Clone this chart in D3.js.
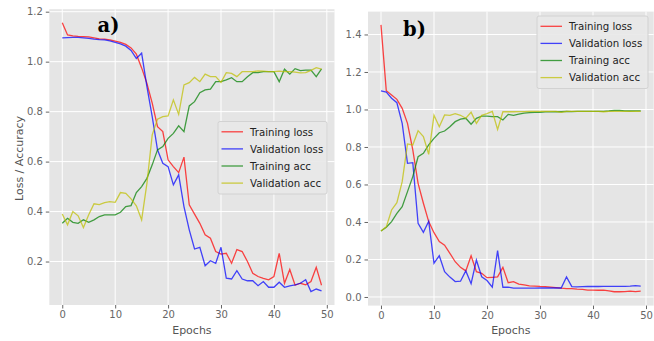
<!DOCTYPE html>
<html>
<head>
<meta charset="utf-8">
<script src="https://cdn.jsdelivr.net/npm/d3@7"></script>
<style>
body { margin: 0; background: #fff; }
text { font-family: "DejaVu Sans", sans-serif; }
</style>
</head>
<body>
<div id="chart"></div>
<script>
// values, epochs 0..49
var epochs = d3.range(0, 50);

var trainLossA = [1.156,1.107,1.103,1.101,1.100,1.099,1.095,1.091,1.090,1.087,1.082,1.077,1.069,1.055,1.030,0.975,0.913,0.834,0.740,0.720,0.607,0.580,0.556,0.618,0.427,0.390,0.353,0.307,0.293,0.240,0.230,0.233,0.193,0.248,0.240,0.200,0.153,0.140,0.133,0.127,0.140,0.233,0.113,0.168,0.105,0.113,0.107,0.120,0.177,0.105];
var valLossA = [1.095,1.096,1.097,1.097,1.095,1.093,1.090,1.088,1.087,1.083,1.077,1.071,1.062,1.045,1.013,1.034,0.900,0.780,0.647,0.593,0.580,0.507,0.547,0.420,0.327,0.250,0.257,0.183,0.203,0.193,0.257,0.133,0.130,0.163,0.130,0.123,0.123,0.103,0.120,0.097,0.097,0.117,0.097,0.103,0.107,0.113,0.127,0.080,0.090,0.083];
var trainAccA = [0.353,0.373,0.357,0.353,0.367,0.357,0.367,0.380,0.387,0.387,0.387,0.397,0.420,0.424,0.476,0.500,0.533,0.587,0.647,0.660,0.693,0.713,0.743,0.720,0.823,0.840,0.876,0.887,0.890,0.920,0.920,0.927,0.936,0.920,0.920,0.940,0.956,0.956,0.960,0.960,0.960,0.920,0.970,0.950,0.972,0.964,0.966,0.966,0.940,0.971];
var valAccA = [0.390,0.347,0.400,0.383,0.336,0.387,0.431,0.428,0.436,0.440,0.437,0.476,0.473,0.451,0.423,0.367,0.513,0.707,0.770,0.780,0.783,0.847,0.789,0.907,0.916,0.937,0.920,0.950,0.940,0.940,0.917,0.956,0.953,0.940,0.960,0.960,0.960,0.963,0.962,0.960,0.960,0.962,0.960,0.960,0.958,0.955,0.956,0.965,0.976,0.970];

var trainLossB = [1.451,1.100,1.077,1.054,1.006,0.926,0.784,0.606,0.500,0.402,0.343,0.295,0.276,0.233,0.188,0.158,0.139,0.220,0.135,0.126,0.103,0.105,0.107,0.158,0.076,0.082,0.069,0.064,0.059,0.058,0.056,0.055,0.053,0.050,0.047,0.045,0.045,0.042,0.040,0.037,0.037,0.036,0.036,0.032,0.028,0.028,0.029,0.031,0.029,0.031];
var valLossB = [1.099,1.093,1.060,1.036,0.926,0.713,0.716,0.393,0.345,0.404,0.180,0.220,0.135,0.106,0.082,0.084,0.139,0.071,0.197,0.108,0.088,0.052,0.247,0.052,0.052,0.047,0.047,0.047,0.047,0.047,0.048,0.048,0.048,0.048,0.048,0.107,0.055,0.054,0.055,0.056,0.056,0.056,0.057,0.057,0.057,0.057,0.057,0.058,0.060,0.058];
var trainAccB = [0.352,0.372,0.402,0.446,0.482,0.562,0.642,0.748,0.766,0.811,0.846,0.876,0.885,0.908,0.935,0.948,0.953,0.921,0.953,0.965,0.965,0.962,0.962,0.944,0.974,0.969,0.975,0.980,0.983,0.985,0.985,0.987,0.987,0.988,0.988,0.990,0.989,0.990,0.990,0.990,0.990,0.990,0.990,0.992,0.995,0.995,0.993,0.992,0.993,0.993];
var valAccB = [0.352,0.374,0.464,0.503,0.615,0.816,0.811,0.887,0.855,0.761,0.969,0.908,0.971,0.969,0.978,0.969,0.953,0.985,0.926,0.969,0.978,0.990,0.894,0.988,0.988,0.988,0.989,0.989,0.990,0.990,0.990,0.990,0.990,0.990,0.985,0.990,0.990,0.990,0.990,0.990,0.990,0.990,0.988,0.990,0.990,0.990,0.990,0.990,0.990,0.990];

var seriesNames = ["Training loss", "Validation loss", "Training acc", "Validation acc"];
var seriesColors = ["#ff0000", "#0000ff", "#008000", "#bfbf00"];

var xTicks = [0, 10, 20, 30, 40, 50];
var yTicksA = [0.2, 0.4, 0.6, 0.8, 1.0, 1.2];
var yTicksB = [0.0, 0.2, 0.4, 0.6, 0.8, 1.0, 1.2, 1.4];

var svg = d3.select("#chart").append("svg")
     .attr("width", 654)
     .attr("height", 341);

function drawPanel(p) {
     var x = d3.scaleLinear().domain([-2.45, 51.45]).range([p.left, p.right]);
     var y = d3.scaleLinear().domain(p.yDomain).range([p.bottom, p.top]);

     var g = svg.append("g");
     g.append("rect")
          .attr("x", p.left).attr("y", p.top)
          .attr("width", p.right - p.left).attr("height", p.bottom - p.top)
          .attr("fill", "#e5e5e5");

     // grid
     g.selectAll(".gx").data(xTicks).enter().append("line")
          .attr("x1", function (d) { return x(d); }).attr("x2", function (d) { return x(d); })
          .attr("y1", p.top).attr("y2", p.bottom)
          .attr("stroke", "#fff").attr("stroke-width", 1);
     g.selectAll(".gy").data(p.yTicks).enter().append("line")
          .attr("x1", p.left).attr("x2", p.right)
          .attr("y1", function (d) { return y(d); }).attr("y2", function (d) { return y(d); })
          .attr("stroke", "#fff").attr("stroke-width", 1);

     var ax = g.append("g")
          .attr("transform", "translate(0," + p.bottom + ")")
          .call(d3.axisBottom(x).tickValues(xTicks).tickSize(3.5).tickPadding(2.5).tickFormat(d3.format("d")));
     var ay = g.append("g")
          .attr("transform", "translate(" + p.left + ",0)")
          .call(d3.axisLeft(y).tickValues(p.yTicks).tickSize(3.5).tickPadding(3).tickFormat(d3.format(".1f")));
     [ax, ay].forEach(function (a) {
          a.select(".domain").remove();
          a.selectAll("line").attr("stroke", "#666");
          a.selectAll("text").attr("fill", "#666").style("font-size", "10px").style("font-family", "DejaVu Sans");
     });

     var line = d3.line()
          .x(function (d, i) { return x(epochs[i]); })
          .y(function (d) { return y(d); });

     p.series.forEach(function (s, i) {
          g.append("path")
               .datum(s)
               .attr("d", line)
               .attr("fill", "none")
               .attr("stroke", seriesColors[i])
               .attr("stroke-opacity", 0.72)
               .attr("stroke-width", 1.3);
     });

     g.append("text")
          .attr("x", (p.left + p.right) / 2)
          .attr("y", 334)
          .attr("text-anchor", "middle")
          .attr("fill", "#555")
          .style("font-size", "11px")
          .text("Epochs");

     g.append("text")
          .attr("x", p.tagX).attr("y", p.tagY)
          .style("font-family", "DejaVu Serif")
          .style("font-weight", "bold")
          .style("font-size", "19.5px")
          .attr("fill", "#000")
          .text(p.tag);

     // legend
     var lg = g.append("g");
     lg.append("rect")
          .attr("x", p.legX).attr("y", p.legY)
          .attr("width", p.legW).attr("height", p.legH)
          .attr("rx", 2)
          .attr("fill", "#e8e8e8").attr("fill-opacity", 0.9)
          .attr("stroke", "#d2d2d2").attr("stroke-width", 1);
     seriesNames.forEach(function (name, i) {
          var cy = p.legY + 10.3 + i * 17.1;
          lg.append("line")
               .attr("x1", p.legX + 3.5).attr("x2", p.legX + 25)
               .attr("y1", cy).attr("y2", cy)
               .attr("stroke", seriesColors[i]).attr("stroke-opacity", 0.72)
               .attr("stroke-width", 1.3);
          lg.append("text")
               .attr("x", p.legX + 32).attr("y", cy + 3.7)
               .attr("fill", "#222")
               .style("font-size", "10.2px")
               .text(name);
     });
}

drawPanel({
     left: 49.3, right: 334.5, top: 9.2, bottom: 305,
     yDomain: [0.026, 1.21], yTicks: yTicksA,
     series: [trainLossA, valLossA, trainAccA, valAccA],
     tag: "a)", tagX: 97.5, tagY: 31.5,
     legX: 218, legY: 121.5, legW: 109, legH: 72.5
});

drawPanel({
     left: 368, right: 653.7, top: 11.6, bottom: 305.6,
     yDomain: [-0.046, 1.522], yTicks: yTicksB,
     series: [trainLossB, valLossB, trainAccB, valAccB],
     tag: "b)", tagX: 403, tagY: 35.5,
     legX: 537, legY: 16, legW: 111, legH: 72.5
});

svg.append("text")
     .attr("transform", "translate(23,158.5) rotate(-90)")
     .attr("text-anchor", "middle")
     .attr("fill", "#555")
     .style("font-size", "11px")
     .text("Loss / Accuracy");
</script>
</body>
</html>
